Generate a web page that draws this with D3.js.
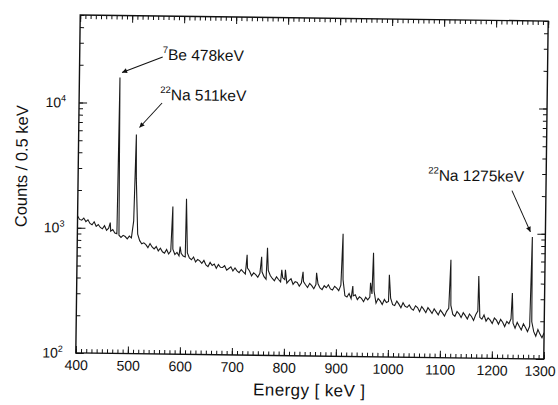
<!DOCTYPE html>
<html><head><meta charset="utf-8">
<script src="https://cdn.jsdelivr.net/npm/d3@7"></script>
<style>
body{margin:0;background:#fff;}
svg{display:block;}
text{font-family:"Liberation Sans",Arial,Helvetica,sans-serif;fill:#111;}
</style>
</head><body>
<svg id="c" width="558" height="405"></svg>
<script>
// ---- data ----
const startEnergy = 400;   // keV, first channel of the 4 keV grid below
const stepEnergy = 4;      // keV
const counts = [
 1240,1165,1150,1195,1120,1160,1085,1060,1120,1030,
 1065,1010,985,1045,960,1000,945,975,915,905,
 880,845,878,860,825,868,840,1150,2500,900,
 800,755,770,745,705,760,715,690,720,665,
 700,655,640,685,630,665,690,625,650,610,
 640,610,600,645,590,570,600,548,575,560,
 535,565,520,505,545,515,530,490,525,500,
 498,515,475,490,505,468,495,470,455,482,
 462,445,495,470,430,455,440,420,452,465,
 425,405,478,435,412,395,425,405,388,418,
 405,380,398,412,372,390,385,360,382,392,
 370,352,380,365,345,372,378,350,340,365,
 352,372,345,338,362,350,335,370,410,305,
 298,318,290,305,312,285,300,292,275,298,
 285,300,318,335,268,292,280,262,288,272,
 278,295,262,258,280,265,248,272,255,250,
 262,245,238,258,250,232,255,242,228,250,
 238,225,245,232,220,240,228,215,235,248,
 262,222,215,235,225,210,230,218,205,225,
 215,200,222,238,212,205,222,198,210,202,
 190,210,202,188,205,195,180,198,190,208,
 192,175,195,182,170,190,178,165,182,198,
 165,152,172,158,148,162
];
const peakEnergies = [463,478,511,583,598,609,727,755,766,794,801,835,861,911,931,965,970,1001,1119,1173,1238,1275];
const peakCounts   = [1107,16000,5630,1510,723,1750,632,612,723,484,484,469,462,953,366,390,677,453,606,454,334,942];
const xTickLabels = [400,500,600,700,800,900,1000,1100,1200,1300];
const yTickExponents = [2,3,4];
const annotations = [
  {iso:"7",  name:"Be 478keV",  energy:478},
  {iso:"22", name:"Na 511keV",  energy:511},
  {iso:"22", name:"Na 1275keV", energy:1275}
];

// ---- build series ----
const series = counts.map((c,i)=>({e:startEnergy+i*stepEnergy, c}))
  .concat(peakEnergies.map((e,i)=>({e, c:peakCounts[i]})))
  .sort((a,b)=>a.e-b.e);

const L=78, R=546, T=18, B=356;
const x = d3.scaleLinear().domain([400,1300]).range([L,R]);
const y = d3.scaleLog().domain([100,50000]).range([B,T]);

const svg = d3.select('#c');
const defs = svg.append('defs');
defs.append('clipPath').attr('id','clip').append('rect')
  .attr('x',L).attr('y',T).attr('width',R-L).attr('height',B-T);
defs.append('marker').attr('id','arr').attr('viewBox','0 0 10 10')
  .attr('refX',10).attr('refY',5).attr('markerWidth',9).attr('markerHeight',5)
  .attr('markerUnits','userSpaceOnUse').attr('orient','auto')
  .append('path').attr('d','M0,0 L10,5 L0,10 Z').attr('fill','#111');

const g = svg.append('g').attr('transform','rotate(0.75,312,187)');

// spectrum
const line = d3.line().x(d=>x(d.e)).y(d=>y(d.c));
g.append('path').datum(series).attr('d',line)
  .attr('fill','none').attr('stroke','#1a1a1a').attr('stroke-width',1.1)
  .attr('stroke-linejoin','miter')
  .attr('clip-path','url(#clip)');

// ticks
const xMinor = d3.range(400,1301,10);
const yMinor = [];
[100,1000,10000].forEach(d=>{for(let k=1;k<10;k++){const v=d*k; if(v<=50000) yMinor.push(v);}});
const yMajor = yTickExponents.map(e=>Math.pow(10,e));

function clean(sel){sel.select('.domain').remove(); sel.selectAll('line').attr('stroke','#111').attr('stroke-width',1);}
g.append('g').attr('transform',`translate(0,${B})`).call(d3.axisBottom(x).tickValues(xMinor).tickSize(-4).tickFormat('')).call(clean);
g.append('g').attr('transform',`translate(0,${T})`).call(d3.axisTop(x).tickValues(xMinor).tickSize(-4).tickFormat('')).call(clean);
g.append('g').attr('transform',`translate(0,${T})`).call(d3.axisTop(x).tickValues(xTickLabels).tickSize(-7).tickFormat('')).call(clean);
const xa = g.append('g').attr('transform',`translate(0,${B})`)
  .call(d3.axisBottom(x).tickValues(xTickLabels).tickSize(-7).tickPadding(7).tickFormat(d3.format('d')));
xa.call(clean);
xa.selectAll('text').attr('font-size',14).attr('font-family','"Liberation Sans",Arial,sans-serif').attr('fill','#111');
xa.selectAll('text').filter(d=>d===1300).attr('dx',-4);

g.append('g').attr('transform',`translate(${L},0)`).call(d3.axisLeft(y).tickValues(yMinor).tickSize(-4).tickFormat('')).call(clean);
g.append('g').attr('transform',`translate(${L},0)`).call(d3.axisLeft(y).tickValues(yMajor).tickSize(-8).tickFormat('')).call(clean);
g.append('g').attr('transform',`translate(${R},0)`).call(d3.axisRight(y).tickValues(yMinor).tickSize(-4).tickFormat('')).call(clean);
g.append('g').attr('transform',`translate(${R},0)`).call(d3.axisRight(y).tickValues(yMajor).tickSize(-8).tickFormat('')).call(clean);

// y labels
yTickExponents.forEach(e=>{
  const t = g.append('text').attr('x',L-13).attr('y',y(Math.pow(10,e))+5)
    .attr('text-anchor','end').attr('font-size',14);
  t.append('tspan').text('10');
  t.append('tspan').attr('font-size',9).attr('dy',-6).text(String(e));
});

// frame
g.append('rect').attr('x',L).attr('y',T).attr('width',R-L).attr('height',B-T)
  .attr('fill','none').attr('stroke','#111').attr('stroke-width',1.4);

// axis titles
g.append('text').attr('x',312).attr('y',396).attr('text-anchor','middle')
  .attr('font-size',17).attr('letter-spacing',0.4).text('Energy [ keV ]');
g.append('text').attr('transform','translate(27,170) rotate(-90)').attr('text-anchor','middle')
  .attr('font-size',16.5).text('Counts / 0.5 keV');

// annotations
const annPos = [
  {tx:161, ty:62,  ax1:161, ay1:59,  dx:2,  dy:-5},
  {tx:159, ty:102, ax1:161, ay1:105, dx:3,  dy:-7},
  {tx:428, ty:179, ax1:512, ay1:188, dx:-2, dy:-5}
];
annotations.forEach((a,i)=>{
  const p = annPos[i];
  const pc = peakCounts[peakEnergies.indexOf(a.energy)];
  const t = g.append('text').attr('x',p.tx).attr('y',p.ty).attr('font-size',15.5);
  t.append('tspan').attr('font-size',9.5).attr('dy',-7).text(a.iso);
  t.append('tspan').attr('dy',7).text(a.name);
  g.append('line').attr('x1',p.ax1).attr('y1',p.ay1)
    .attr('x2',x(a.energy)+p.dx).attr('y2',y(pc)+p.dy)
    .attr('stroke','#111').attr('stroke-width',1).attr('marker-end','url(#arr)');
});
</script>
</body></html>
